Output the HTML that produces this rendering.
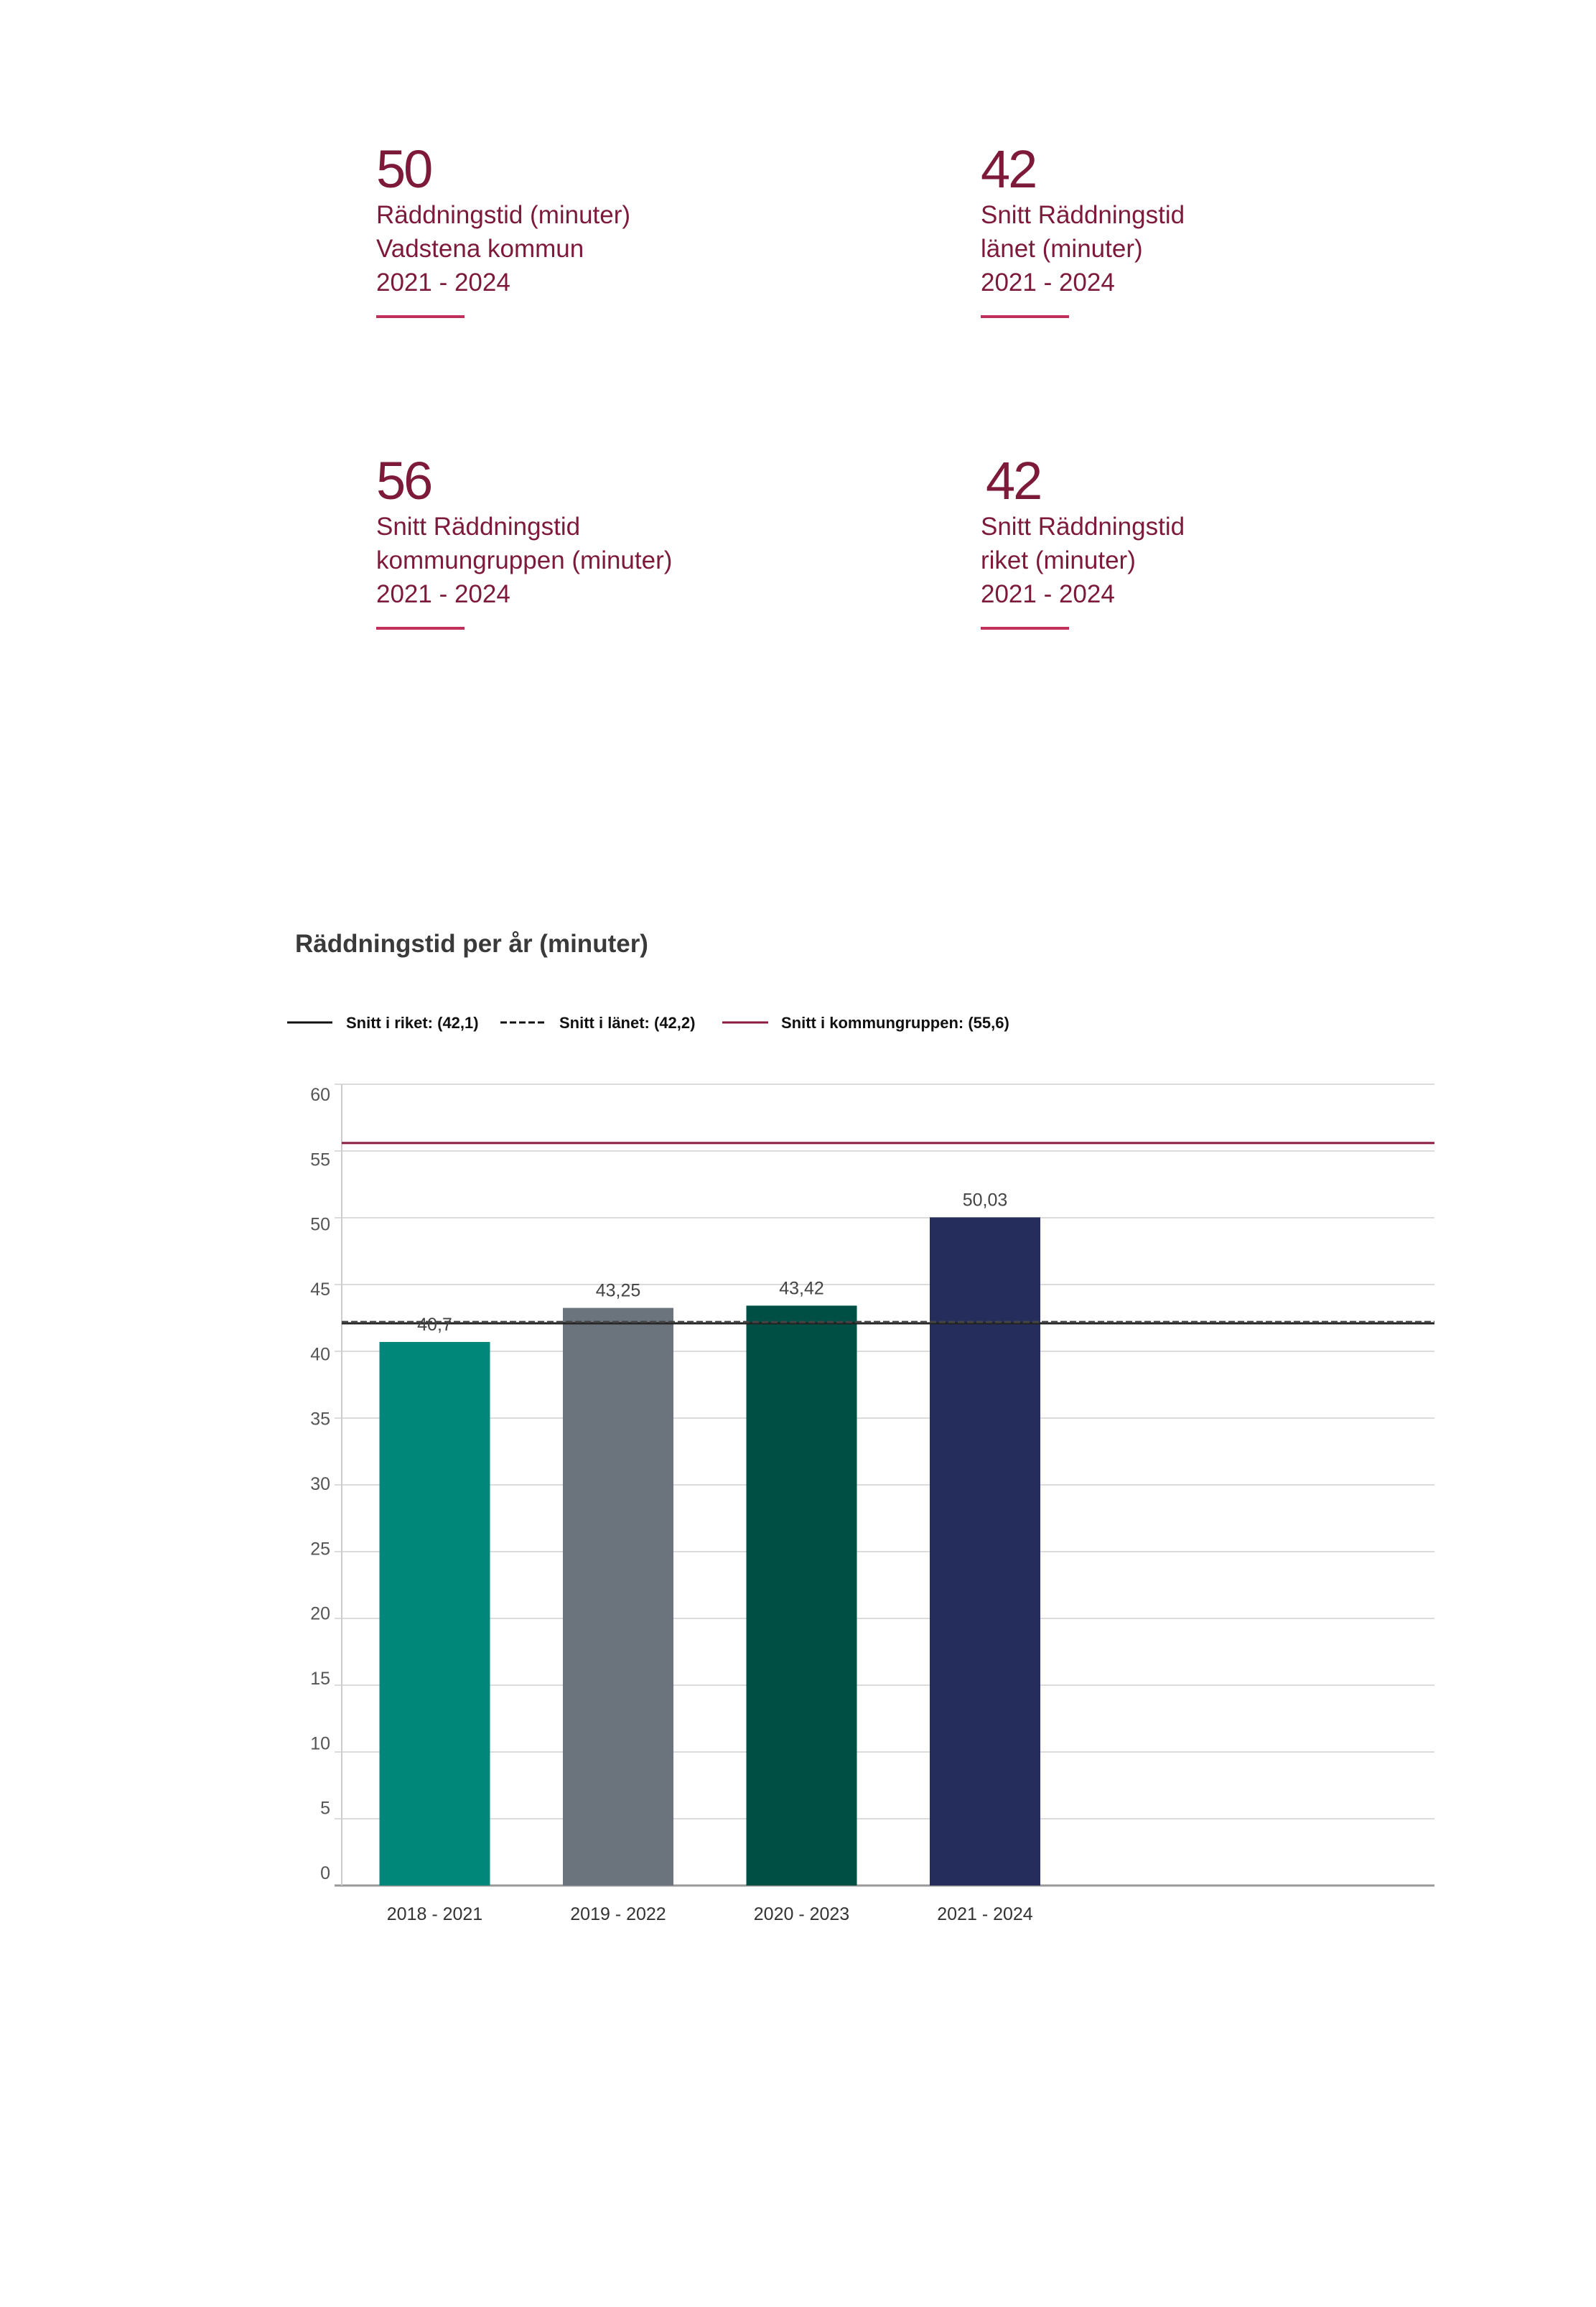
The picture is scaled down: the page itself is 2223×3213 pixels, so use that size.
<!DOCTYPE html>
<html><head><meta charset="utf-8">
<style>
html,body{margin:0;padding:0;background:#fff;}
body{width:2223px;height:3213px;position:relative;overflow:hidden;font-family:"Liberation Sans Narrow","Liberation Sans",sans-serif;}
.kpi{position:absolute;color:#7d1a3a;}
.kpi .num{font-size:74px;line-height:80px;height:80px;letter-spacing:-3px;}
.kpi .lbl{font-size:35px;line-height:47px;margin-top:0px;}
.kpi .ul{width:123px;height:4px;background:#c0305a;margin-top:22px;}
</style></head>
<body>
<div class="kpi" style="left:524px;top:196px">
  <div class="num">50</div>
  <div class="lbl">Räddningstid (minuter)<br>Vadstena kommun<br>2021 - 2024</div>
  <div class="ul"></div>
</div>
<div class="kpi" style="left:1366px;top:196px">
  <div class="num">42</div>
  <div class="lbl">Snitt Räddningstid<br>länet (minuter)<br>2021 - 2024</div>
  <div class="ul"></div>
</div>
<div class="kpi" style="left:524px;top:630px">
  <div class="num">56</div>
  <div class="lbl">Snitt Räddningstid<br>kommungruppen (minuter)<br>2021 - 2024</div>
  <div class="ul"></div>
</div>
<div class="kpi" style="left:1366px;top:630px">
  <div class="num" style="padding-left:7px">42</div>
  <div class="lbl">Snitt Räddningstid<br>riket (minuter)<br>2021 - 2024</div>
  <div class="ul"></div>
</div>

<svg id="chart" width="2223" height="3213" style="position:absolute;left:0;top:0">
  <text x="411" y="1326" font-size="35" font-weight="bold" fill="#3a3a3a" font-family="Liberation Sans Narrow, Liberation Sans, sans-serif">Räddningstid per år (minuter)</text>
  <g id="legend" font-family="Liberation Sans Narrow, Liberation Sans, sans-serif" font-size="22" font-weight="bold" fill="#111">
    <line x1="400" y1="1424" x2="463" y2="1424" stroke="#111" stroke-width="3"/>
    <text x="482" y="1432">Snitt i riket: (42,1)</text>
    <line x1="697" y1="1424" x2="758" y2="1424" stroke="#111" stroke-width="3" stroke-dasharray="9,4"/>
    <text x="779" y="1432">Snitt i länet: (42,2)</text>
    <line x1="1006" y1="1424" x2="1070" y2="1424" stroke="#8b1a40" stroke-width="3"/>
    <text x="1088" y="1432">Snitt i kommungruppen: (55,6)</text>
  </g>
  <g id="plot"></g>
</svg>
<script>
const categories = ["2018 - 2021","2019 - 2022","2020 - 2023","2021 - 2024"];
const values = [40.7, 43.25, 43.42, 50.03];
const valueLabels = ["40,7","43,25","43,42","50,03"];
const barColors = ["#00877a","#6b737c","#004f45","#252d5c"];
const yTicks = [0,5,10,15,20,25,30,35,40,45,50,55,60];
const refRiket = [42.1];
const refLanet = [42.2];
const refKommungrupp = [55.6];

const NS = "http://www.w3.org/2000/svg";
const plot = document.getElementById('plot');
const X0 = 476, X1 = 1998, Y0 = 2626, Y60 = 1510;
const yMax = 60;
const band = 255.5;
const barW = 154;
function y(v){ return Y0 - (v / yMax) * (Y0 - Y60); }
function yLabel(v){ return 2617 - (v / yMax) * (2617 - 1533); }
function xc(i){ return X0 + band * i + 129.5; }
function mk(tag, attrs){ const e = document.createElementNS(NS, tag); for (const k in attrs) e.setAttribute(k, attrs[k]); plot.appendChild(e); return e; }
const font = "Liberation Sans, sans-serif";

yTicks.forEach(t => {
  const g = mk('line', {x1: X0 - 10, x2: X1, y1: y(t), y2: y(t), stroke: t === 0 ? '#999' : '#dcdcdc', 'stroke-width': t === 0 ? 3 : 2});
  
  
  const l = mk('text', {x: 460, y: yLabel(t), 'text-anchor': 'end', 'font-size': 25, fill: '#555', 'font-family': font});
  l.textContent = t;
  
  
});
const ax = mk('line', {x1: X0, x2: X0, y1: Y60, y2: Y0, stroke: '#ccc', 'stroke-width': 2});



values.forEach((v, i) => {
  const r = mk('rect', {x: xc(i) - barW / 2, y: y(v), width: barW, height: Y0 - y(v), fill: barColors[i]});
  
  
  const c = mk('text', {x: xc(i), y: 2674, 'text-anchor': 'middle', 'font-size': 25, fill: '#333', 'font-family': font});
  c.textContent = categories[i];
  
  
});

const kl = mk('line', {x1: X0, x2: X1, y1: y(refKommungrupp[0]), y2: y(refKommungrupp[0]), stroke: '#8b1a40', 'stroke-width': 3});


const rl = mk('line', {x1: X0, x2: X1, y1: y(refRiket[0]), y2: y(refRiket[0]), stroke: '#222', 'stroke-width': 3});


const ll = mk('line', {x1: X0, x2: X1, y1: y(refLanet[0]), y2: y(refLanet[0]), stroke: '#444', 'stroke-width': 3, 'stroke-dasharray': '9,4'});



values.forEach((v, i) => {
  const t = mk('text', {x: xc(i), y: y(v) - 16, 'text-anchor': 'middle', 'font-size': 25, fill: '#444', 'font-family': font});
  t.textContent = valueLabels[i];
  
  
});
</script>
</body></html>
